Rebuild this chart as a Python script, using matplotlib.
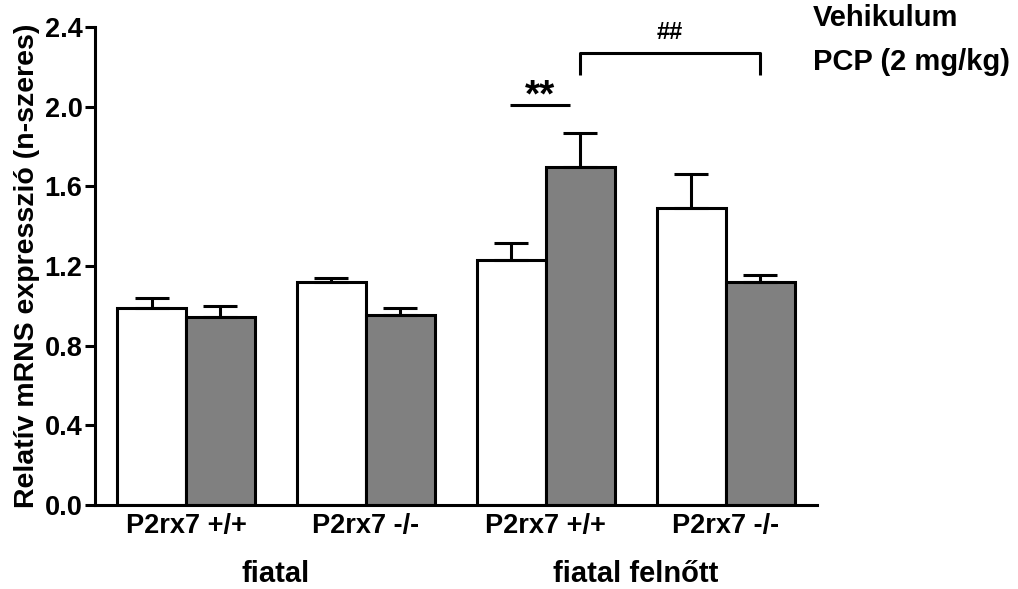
import numpy as np
import matplotlib
matplotlib.use('Agg')
import matplotlib.pyplot as plt

plt.rcParams['font.family'] = ['Liberation Sans', 'DejaVu Sans']
plt.rcParams['font.weight'] = 'bold'

# Relative mRNA expression, mean + SEM
genotypes = ['P2rx7 +/+', 'P2rx7 -/-', 'P2rx7 +/+', 'P2rx7 -/-']
age_groups = ['fiatal', 'fiatal felnőtt']
vehicle_mean = [0.99, 1.12, 1.23, 1.49]
vehicle_sem = [0.05, 0.02, 0.085, 0.17]
pcp_mean = [0.945, 0.955, 1.695, 1.12]
pcp_sem = [0.055, 0.035, 0.175, 0.035]
legend_labels = ['Vehikulum', 'PCP (2 mg/kg)']

x = np.arange(len(genotypes))
w = 0.383
lw = 2.2

fig = plt.figure(figsize=(10.18, 5.89), dpi=100)
ax = fig.add_axes([0.0933, 0.1426, 0.709, 0.8115])

err_kw = dict(ecolor='black', elinewidth=lw, capsize=12.5, capthick=lw)
ax.bar(x - w / 2, vehicle_mean, w, color='white', edgecolor='black', linewidth=lw,
       yerr=[np.zeros(4), vehicle_sem], error_kw=err_kw, zorder=2)
ax.bar(x + w / 2, pcp_mean, w, color='#808080', edgecolor='black', linewidth=lw,
       yerr=[np.zeros(4), pcp_sem], error_kw=err_kw, zorder=2)

ax.set_xlim(-0.506, 3.506)
ax.set_ylim(0, 2.4)
ax.set_yticks(np.arange(0, 2.41, 0.4))
ax.set_yticklabels(['%.1f' % v for v in np.arange(0, 2.41, 0.4)], fontsize=19.5, fontweight='bold')
ax.set_xticks(x)
ax.set_xticklabels(genotypes, fontsize=19.5, fontweight='bold')
ax.tick_params(axis='x', length=0, pad=6)
ax.tick_params(axis='y', length=7, width=lw, pad=2)
ax.set_ylabel('Relatív mRNS expresszió (n-szeres)', fontsize=20.5, fontweight='bold', labelpad=3)

for s in ['top', 'right']:
    ax.spines[s].set_visible(False)
for s in ['left', 'bottom']:
    ax.spines[s].set_linewidth(lw)

# age group labels under genotype ticks
for i, lab in enumerate(age_groups):
    ax.text(2 * i + 0.5, -0.345, lab, ha='center', va='center', fontsize=21,
            fontweight='bold', transform=ax.transData, clip_on=False)

# significance markers
ax.plot([1.8, 2.133], [2.01, 2.01], color='black', lw=lw, solid_capstyle='butt')
ax.text(1.966, 2.05, '**', ha='center', va='center', fontsize=28, fontweight='bold')
ax.plot([2.19, 2.19, 3.19, 3.19], [2.16, 2.27, 2.27, 2.16], color='black', lw=lw,
        solid_capstyle='butt')
ax.text(2.69, 2.375, '##', ha='center', va='center', fontsize=17, fontweight='bold')

# legend as plain text entries
fig.text(813 / 1018, 1 - 18 / 589, legend_labels[0], ha='left', va='center',
         fontsize=21, fontweight='bold')
fig.text(813 / 1018, 1 - 62 / 589, legend_labels[1], ha='left', va='center',
         fontsize=21, fontweight='bold')

fig.savefig('out.png', dpi=100)
